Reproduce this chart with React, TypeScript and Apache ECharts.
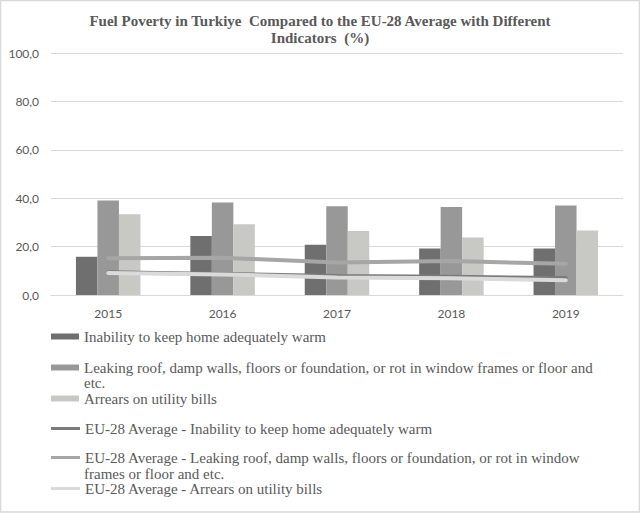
import React, { useEffect, useRef } from "react";
import * as echarts from "echarts";

const years = ["2015", "2016", "2017", "2018", "2019"];
const trInability = [15.8, 24.4, 20.8, 19.2, 19.2];
const trLeaking = [39.1, 38.2, 36.7, 36.4, 37.0];
const trArrears = [33.4, 29.2, 26.4, 23.8, 26.7];
const euInability = [9.4, 8.7, 7.9, 7.5, 7.0];
const euLeaking = [15.2, 15.4, 13.4, 14.0, 12.9];
const euArrears = [9.1, 8.5, 7.2, 6.9, 6.1];

const yTicks = [0, 20, 40, 60, 80, 100];

const names = [
  "Inability to keep home adequately warm",
  "Leaking roof, damp walls, floors or foundation, or rot in window frames or floor and etc.",
  "Arrears on utility bills",
  "EU-28 Average - Inability to keep home adequately warm",
  "EU-28 Average - Leaking roof, damp walls, floors or foundation, or rot in window frames or floor and etc.",
  "EU-28 Average - Arrears on utility bills",
];
// legend text split into the first line (legend) and the wrapped remainder
const firstLines: Record<string, string> = {
  [names[1]]: "Leaking roof, damp walls, floors or foundation, or rot in window frames or floor and",
  [names[4]]: "EU-28 Average - Leaking roof, damp walls, floors or foundation, or rot in window",
};
const secondLines = ["etc.", "frames or floor and etc."];

const colors = ["#6f6f6f", "#989898", "#c8c8c5", "#7b7b7b", "#a6a6a6", "#dadada"];

const SERIF = "'Liberation Serif', 'Times New Roman', serif";
const SANS = "Lato, 'Liberation Sans', sans-serif";

export default function App() {
  const ref = useRef<HTMLDivElement>(null);
  useEffect(() => {
    if (!ref.current) return;
    const chart = echarts.init(ref.current, null, { renderer: "svg" });
    const legendCenters = [336, 367, 398, 428, 457, 488];
    const secondCenters = [383, 474];
    const legends = names.map((n, i) => {
      const isLine = i >= 3;
      return {
        data: [n],
        left: 51,
        top: legendCenters[i] - 7,
        padding: 0,
        orient: "vertical",
        icon: "rect",
        itemWidth: isLine ? 29 : 28,
        itemHeight: isLine ? 3 : 6,
        selectedMode: false,
        formatter: (name: string) => firstLines[name] || name,
        textStyle: {
          fontFamily: SERIF,
          fontSize: 15,
          color: "#595959",
          lineHeight: 14,
        },
      };
    });
    const barData = [trInability, trLeaking, trArrears];
    const lineData = [euInability, euLeaking, euArrears];
    chart.setOption({
      animation: false,
      backgroundColor: "#ffffff",
      title: {
        text: "Fuel Poverty in Turkiye  Compared to the EU-28 Average with Different\nIndicators  (%)",
        left: 320,
        textAlign: "center",
        top: 12,
        padding: 0,
        textStyle: {
          fontFamily: SERIF,
          fontWeight: "bold",
          fontSize: 15,
          lineHeight: 17.5,
          color: "#595959",
        },
      },
      legend: legends,
      grid: { left: 51, right: 17, top: 53, bottom: 218, containLabel: false },
      xAxis: {
        type: "category",
        data: years,
        axisLine: { lineStyle: { color: "#d9d9d9", width: 1 } },
        axisTick: { show: false },
        axisLabel: { color: "#595959", fontFamily: SANS, fontSize: 12, margin: 12 },
      },
      yAxis: {
        type: "value",
        min: yTicks[0],
        max: yTicks[yTicks.length - 1],
        interval: 20,
        axisLine: { show: false },
        axisTick: { show: false },
        splitLine: { lineStyle: { color: "#d9d9d9", width: 1 } },
        axisLabel: {
          color: "#595959",
          fontFamily: SANS,
          fontSize: 12,
          margin: 12,
          formatter: (v: number) => v.toFixed(1).replace(".", ","),
        },
      },
      series: [
        ...barData.map((d, i) => ({
          name: names[i],
          type: "bar",
          data: d,
          barWidth: 21.5,
          barGap: "0%",
          itemStyle: { color: colors[i] },
        })),
        ...lineData.map((d, i) => ({
          name: names[i + 3],
          type: "line",
          data: d,
          showSymbol: false,
          symbol: "none",
          itemStyle: { color: colors[i + 3] },
          lineStyle: { color: colors[i + 3], width: 4, cap: "round" },
          z: 3 + i,
        })),
      ],
      graphic: [
        {
          type: "rect",
          shape: { x: 0.5, y: 0.5, width: 639, height: 511.5 },
          style: { fill: "none", stroke: "#d9d9d9", lineWidth: 1.5 },
          silent: true,
        },
        ...secondLines.map((t, k) => ({
          type: "text",
          x: 84,
          y: secondCenters[k],
          silent: true,
          style: {
            text: t,
            fontFamily: SERIF,
            fontSize: 15,
            lineHeight: 13,
            fill: "#595959",
            verticalAlign: "middle",
            align: "left",
          },
        })),
      ],
    });
    return () => chart.dispose();
  }, []);
  return (
    <div
      ref={ref}
      style={{ position: "absolute", left: 0, top: 0, width: 640, height: 513 }}
    />
  );
}
